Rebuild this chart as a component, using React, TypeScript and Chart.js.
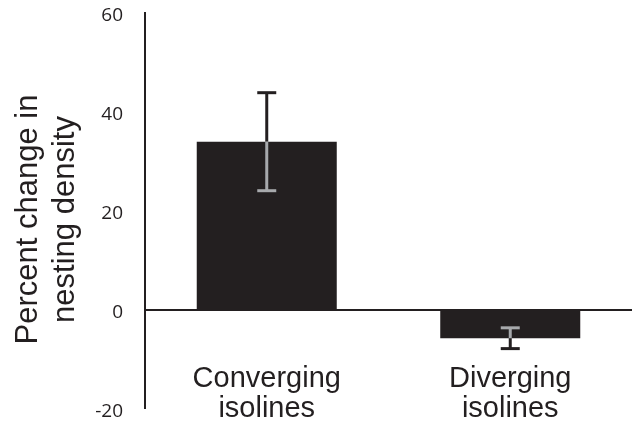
import React, { useEffect, useRef } from "react";
import { Chart, registerables } from "chart.js";

Chart.register(...registerables);

// ---- data ----
const categories: string[][] = [
  ["Converging", "isolines"],
  ["Diverging", "isolines"],
];
const values: number[] = [34, -5.7];
const errHigh: number[] = [43.9, -3.6];
const errLow: number[] = [24.1, -7.8];
const yMin = -20;
const yMax = 60;
const yStep = 20;
const yTitle: string[] = ["Percent change in", "nesting density"];

const DARK = "#231f20";
const GREY = "#a7a9ac";

const errorBarPlugin = {
  id: "errorBars",
  afterDatasetsDraw(chart: any) {
    const ctx = chart.ctx;
    const meta = chart.getDatasetMeta(0);
    const y = chart.scales.y;
    ctx.save();
    ctx.lineCap = "butt";
    meta.data.forEach((bar: any, i: number) => {
      const x = bar.x;
      const v = values[i];
      const yv = y.getPixelForValue(v);
      [errHigh[i], errLow[i]].forEach((e) => {
        const inside = v >= 0 ? e <= v && e >= 0 : e >= v && e <= 0;
        const ye = y.getPixelForValue(e);
        ctx.strokeStyle = inside ? GREY : DARK;
        ctx.lineWidth = 3;
        ctx.beginPath();
        ctx.moveTo(x, yv);
        ctx.lineTo(x, ye);
        ctx.stroke();
        ctx.beginPath();
        ctx.moveTo(x - 9.5, ye);
        ctx.lineTo(x + 9.5, ye);
        ctx.stroke();
      });
    });
    ctx.restore();
  },
};

const textPlugin = {
  id: "texts",
  afterDraw(chart: any) {
    const ctx = chart.ctx;
    const xs = chart.scales.x;
    const area = chart.chartArea;
    ctx.save();
    // category labels
    ctx.font = "29px 'Liberation Sans', Arial, sans-serif";
    ctx.fillStyle = DARK;
    ctx.textAlign = "center";
    ctx.textBaseline = "alphabetic";
    categories.forEach((lines, i) => {
      const x = xs.getPixelForValue(i);
      lines.forEach((line, j) => {
        ctx.fillText(line, x, area.bottom - 22 + j * 30);
      });
    });
    // y axis title
    ctx.font = "31px 'Liberation Sans', Arial, sans-serif";
    const cy = (area.top + area.bottom) / 2 + 8.5;
    ctx.translate(0, cy);
    ctx.rotate(-Math.PI / 2);
    yTitle.forEach((line, j) => {
      ctx.fillText(line, 0, 37 + j * 37);
    });
    ctx.restore();
  },
};

export default function App() {
  const ref = useRef<HTMLCanvasElement | null>(null);

  useEffect(() => {
    if (!ref.current) return;
    const chart = new Chart(ref.current, {
      type: "bar",
      data: {
        labels: categories.map((c) => c.join(" ")),
        datasets: [
          {
            data: values,
            backgroundColor: DARK,
            borderWidth: 0,
            barPercentage: 0.575,
            categoryPercentage: 1,
          },
        ],
      },
      options: {
        responsive: false,
        animation: false,
        devicePixelRatio: 1,
        layout: { padding: { left: 0, right: -3, top: 13, bottom: 18 } },
        plugins: {
          legend: { display: false },
          tooltip: { enabled: false },
        },
        scales: {
          x: { display: false },
          y: {
            min: yMin,
            max: yMax,
            afterFit(scale: any) {
              scale.width = 145;
            },
            ticks: {
              stepSize: yStep,
              padding: 0,
              labelOffset: 3,
              color: DARK,
              font: { family: "'Open Sans'", size: 19 },
            },
            grid: {
              drawTicks: true,
              tickLength: 22,
              tickColor: "rgba(0,0,0,0)",
              color: (c: any) => (c.tick && c.tick.value === 0 ? DARK : "rgba(0,0,0,0)"),
              lineWidth: (c: any) => (c.tick && c.tick.value === 0 ? 2 : 0),
            },
            border: { display: true, color: DARK, width: 2 },
            title: { display: false },
          },
        },
      },
      plugins: [errorBarPlugin, textPlugin],
    });
    return () => chart.destroy();
  }, []);

  return (
    <div style={{ position: "fixed", left: 0, top: 0, width: 632, height: 427, background: "#fff" }}>
      <canvas ref={ref} width={632} height={427} />
    </div>
  );
}
